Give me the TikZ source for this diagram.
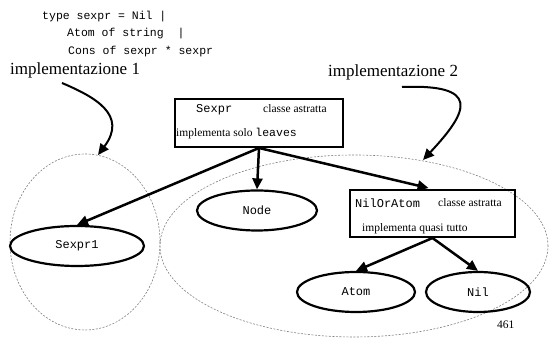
\documentclass[tikz,border=0pt]{standalone}
\usepackage{fontspec}
\setmainfont{Liberation Serif}
\setmonofont{Liberation Mono}
\usetikzlibrary{arrows.meta, shapes.geometric, positioning}

\begin{document}
\begin{tikzpicture}[x=1pt, y=1pt,
  big/.style={font=\fontsize{17}{20}\selectfont, inner sep=0pt},
  small/.style={font=\fontsize{11.5}{14}\selectfont, inner sep=0pt},
  code/.style={font=\ttfamily\fontsize{11.5}{13}\selectfont, inner sep=0pt},
  box/.style={draw, line width=2pt, minimum width=168pt, minimum height=48pt},
  leaf/.style={draw, ellipse, line width=2.2pt, font=\ttfamily\fontsize{12}{14}\selectfont, minimum height=40pt},
  arr/.style={-{Triangle[length=11pt,width=10pt]}, line width=2.5pt},
  region/.style={draw=gray, dash pattern=on 2pt off 1.5pt, line width=0.6pt}]
\useasboundingbox (0,0) rectangle (550,339);
% the two implementations
\draw[region] (85,97) ellipse (75 and 88);
\draw[region] (354,93) ellipse (194 and 91);
% the type
\node[code, anchor=west] (t1) at (42,322) {type sexpr = Nil |};
\node[code, anchor=west] (t2) at (67,305) {Atom of string\ \ |};
\node[code, anchor=west] (t3) at (68,287) {Cons of sexpr * sexpr};
\node[big, anchor=west] (impl1) at (10,269) {implementazione 1};
\node[big, anchor=west] (impl2) at (328,267) {implementazione 2};
% abstract classes
\node[box] (sexpr) at (259,216) {};
\node[code, font=\ttfamily\fontsize{12}{14}\selectfont, anchor=west] (sexprname) at (196,229) {Sexpr};
\node[small, anchor=west] (sexprkind) at (263,230) {classe astratta};
\node[small, anchor=west] (sexprnote) at (176,205) {implementa solo \texttt{leaves}};
\node[box, minimum width=165pt, minimum height=47pt] (noa) at (432.5,125.5) {};
\node[code, font=\ttfamily\fontsize{12}{14}\selectfont, anchor=west] (noaname) at (355,136) {NilOrAtom};
\node[small, anchor=west] (noakind) at (438,136) {classe astratta};
\node[small, anchor=west] (noanote) at (362,110) {implementa quasi tutto};
% concrete classes
\node[leaf, minimum width=134pt] (sexpr1) at (77,93) {Sexpr1};
\node[leaf, minimum width=120pt] (node) at (257,128.5) {Node};
\node[leaf, minimum width=118pt] (atom) at (356,47) {Atom};
\node[leaf, minimum width=104pt] (nil) at (478,47) {Nil};
\node[small, anchor=west] (page) at (497,14) {461};
\draw[arr] (sexpr.south) -- (sexpr1.north);
\draw[arr] (sexpr.south) -- (node.north);
\draw[arr, shorten >=4pt] (sexpr.south) -- (noa.north);
\draw[arr] (noa.south) -- (atom.north);
\draw[arr] (noa.south) -- (nil.north);
% pointers from the labels
\coordinate (from1) at (62,256);
\coordinate (to1) at (98,184);
\coordinate (from2) at (402,252);
\coordinate (to2) at (423,179);
\draw[arr, line width=2pt] (from1) .. controls (95,242) and (128,224) .. (to1);
\draw[arr, line width=2pt] (from2) .. controls (480,255) and (470,229) .. (to2);
\end{tikzpicture}
\end{document}
